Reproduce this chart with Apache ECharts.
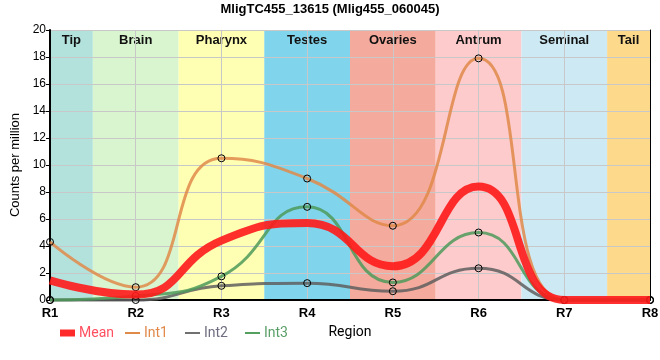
<!DOCTYPE html>
<html><head><meta charset="utf-8">
<script src="https://cdn.jsdelivr.net/npm/echarts@6/dist/echarts.min.js"></script>
<style>html,body{margin:0;padding:0;background:#fff}#c{width:660px;height:360px}</style>
</head><body><div id="c"></div>
<script>
const categories = ['R1','R2','R3','R4','R5','R6','R7','R8'];
const xPos = [1,2,3,4,5,6,7,8];
const meanVals = [1.45, 0.4, 4.4, 5.7, 2.5, 8.4, 0, 0];
const int1Vals = [4.3, 0.95, 10.5, 9.0, 5.5, 17.9, 0, 0];
const int2Vals = [0, 0, 1.05, 1.25, 0.65, 2.35, 0, 0];
const int3Vals = [0, 0.3, 1.75, 6.9, 1.3, 5.0, 0, 0];
const bandNames = ['Tip','Brain','Pharynx','Testes','Ovaries','Antrum','Seminal','Tail'];
const bandStart = [1, 1.5, 2.5, 3.5, 4.5, 5.5, 6.5, 7.5];
const bandEnd   = [1.5, 2.5, 3.5, 4.5, 5.5, 6.5, 7.5, 8];
const bandColors = ['#b3e2dd','#d8f5d0','#ffffb3','#80d4eb','#f4aa9c','#fdcbcb','#cdeaf4','#fdd98b'];
const yTicks = {min:0, max:20, interval:2};

const pairs = v => v.map((y,i)=>[xPos[i], y]);
const FONT = '"Liberation Sans", Arial, sans-serif';

const chart = echarts.init(document.getElementById('c'), null, {renderer:'canvas'});
const symStyle = {color:'rgba(0,0,0,0)', borderColor:'#000', borderWidth:1};
function intSeries(name, vals, color){
  return {name, type:'line', data:pairs(vals), smooth:true, clip:false, z:2,
    symbol:'circle', symbolSize:7, showSymbol:true,
    lineStyle:{color, width:3, opacity:0.85}, itemStyle:Object.assign({}, symStyle),
    emphasis:{disabled:true}};
}
const legendItems = [
  {name:'Mean', left:55, h:7, tc:'#ff5060'},
  {name:'Int1', left:120, h:2, tc:'#e0894a'},
  {name:'Int2', left:180, h:2, tc:'#6e6e80'},
  {name:'Int3', left:240, h:2, tc:'#5a9e68'}
];
const legendColors = {Mean:'#ff2a2a', Int1:'#e08a4a', Int2:'#707070', Int3:'#55a05e'};
chart.setOption({
  animation:false,
  textStyle:{fontFamily:FONT},
  title:{text:'MligTC455_13615 (Mlig455_060045)', left:'center', top:-2,
    textStyle:{fontSize:13, fontWeight:'bold', color:'#000', fontFamily:FONT}},
  grid:{left:50, right:10, top:30, bottom:60, outerBoundsMode:'none', containLabel:false},
  legend: legendItems.map(it=>({
    data:[{name:it.name, icon:'rect',
      itemStyle:{color:legendColors[it.name], borderWidth:0, opacity:1},
      lineStyle:{color:legendColors[it.name], width:0}}],
    left:it.left, top:321, itemWidth:15, itemHeight:it.h, itemGap:4,
    selectedMode:false,
    textStyle:{color:it.tc, fontSize:14, fontFamily:'Roboto, sans-serif', padding:[0,0,0,-1]}
  })),
  xAxis:[{type:'value', min:1, max:8, interval:1, z:1,
    name:'Region', nameLocation:'middle', nameGap:25,
    nameTextStyle:{fontSize:14, color:'#000', fontFamily:'Roboto, sans-serif'},
    axisLine:{show:true, onZero:false, lineStyle:{color:'#000', width:2}},
    axisTick:{show:false},
    axisLabel:{fontSize:13, fontWeight:'bold', color:'#000', margin:7,
      formatter:v=>categories[Math.round(v)-1] || ''},
    splitLine:{show:true, lineStyle:{color:'#c8c8c8', width:1}}},
   {type:'value', min:1, max:8, position:'top', z:1,
    axisLine:{show:true, lineStyle:{color:'#000', width:1}},
    axisTick:{show:false}, axisLabel:{show:false}, splitLine:{show:false}}],
  yAxis:[{type:'value', min:yTicks.min, max:yTicks.max, interval:yTicks.interval, z:1,
    name:'Counts per million', nameLocation:'middle', nameGap:26,
    nameTextStyle:{fontSize:13, color:'#000', fontFamily:FONT},
    axisLine:{show:true, lineStyle:{color:'#000', width:2}},
    axisTick:{show:true, length:4, lineStyle:{color:'#000'}},
    axisLabel:{fontSize:12, color:'#000', margin:4, fontFamily:FONT},
    splitLine:{show:true, lineStyle:{color:'#c8c8c8', width:1}}},
   {type:'value', min:yTicks.min, max:yTicks.max, position:'right', z:1,
    axisLine:{show:true, lineStyle:{color:'#000', width:1}},
    axisTick:{show:false}, axisLabel:{show:false}, splitLine:{show:false}}],
  series:[
    {name:'bands', type:'line', data:[], z:0, silent:true,
     markArea:{z:0.5, silent:true,
       label:{position:'insideTop', distance:4, fontSize:13, fontWeight:'bold', color:'#111', fontFamily:FONT},
       data: bandNames.map((n,i)=>[{name:n, xAxis:bandStart[i], itemStyle:{color:bandColors[i], opacity:1}}, {xAxis:bandEnd[i]}])}},
    intSeries('Int1', int1Vals, '#e08a4a'),
    intSeries('Int2', int2Vals, '#5f5f5f'),
    intSeries('Int3', int3Vals, '#4e9a5a'),
    {name:'Mean', type:'line', data:pairs(meanVals), smooth:true, clip:false, z:3,
     symbol:'none', showSymbol:false,
     lineStyle:{color:'#ff1a1a', width:8, opacity:0.9}, itemStyle:{color:'#ff2a2a'},
     emphasis:{disabled:true}}
  ]
});
</script></body></html>
